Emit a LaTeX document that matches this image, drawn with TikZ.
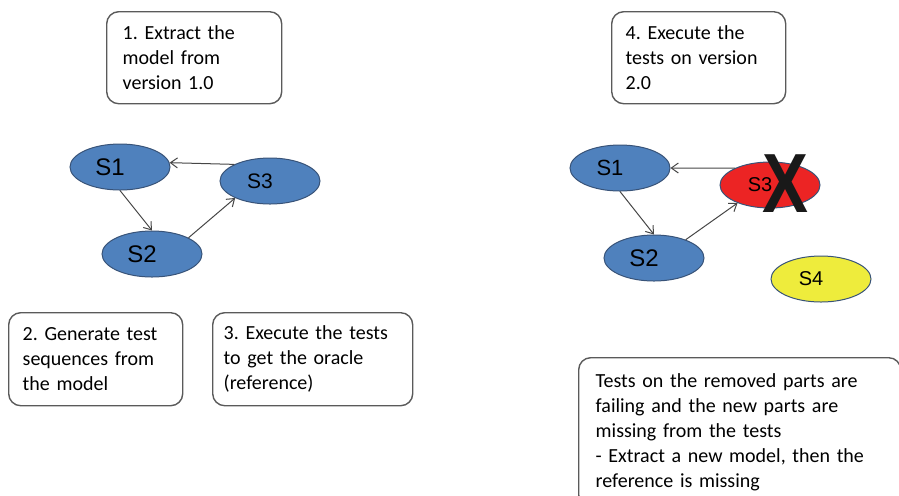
\documentclass[tikz,border=0pt]{standalone}
\usepackage{fontspec}
\setmainfont{Carlito}
\newfontfamily\arialfont{Liberation Sans}
\usetikzlibrary{arrows.meta,shapes.geometric}
\frenchspacing
\definecolor{stateblue}{RGB}{79,129,189}
\definecolor{stateedge}{RGB}{56,83,120}
\definecolor{statered}{RGB}{236,36,36}
\definecolor{stateyellow}{RGB}{238,236,60}
\definecolor{boxedge}{RGB}{90,90,90}
\tikzset{
  note/.style={draw=boxedge,line width=0.7pt,rounded corners=6pt,anchor=north west,
    align=left,font=\fontsize{10}{12.5}\selectfont},
  state/.style={ellipse,draw=stateedge,line width=0.5pt,fill=stateblue,inner sep=0pt,
    minimum width=50pt,minimum height=23pt,font=\arialfont\fontsize{12}{12}\selectfont,
    execute at end node={\hspace*{10pt}}},
  link/.style={draw={rgb,255:red,70;green,70;blue,70},line width=0.5pt,-{Straight Barb[length=3.5pt,width=5pt]}}
}
\begin{document}
\begin{tikzpicture}[x=0.5pt,y=-0.5pt]
  \useasboundingbox (0,0) rectangle (899,495);

  % notes
  \node[note,minimum width=87.5pt,minimum height=46pt,text width=71.5pt,inner xsep=8pt]
    (extract) at (106,11) {1. Extract the\\model from\\version 1.0};
  \node[note,minimum width=87pt,minimum height=46pt,text width=73pt,inner xsep=7pt]
    (execnew) at (611,11) {4. Execute the\\tests on version\\2.0};
  \node[note,minimum width=87pt,minimum height=46.5pt,text width=73pt,inner xsep=7pt]
    (generate) at (8,312) {2. Generate test\\sequences from\\the model};
  \node[note,minimum width=100pt,minimum height=46.5pt,text width=89pt,inner xsep=5.5pt]
    (oracle) at (212,312) {3. Execute the tests\\to get the oracle\\(reference)};
  \node[note,minimum width=161pt,minimum height=74.5pt,text width=144pt,inner xsep=8.5pt]
    (result) at (578,357) {Tests on the removed parts are\\failing and the new parts are\\missing from the tests\\- Extract a new model, then the\\reference is missing};

  % model of version 1.0
  \node[state] (s1) at (120,167) {S1};
  \node[state,font=\arialfont\fontsize{10.5}{12}\selectfont] (s3) at (270,181) {S3};
  \node[state] (s2) at (152,254) {S2};
  \draw[link] (s3.155) -- (s1.5);
  \draw[link] (s1.south) -- (s2.north);
  \draw[link] (s2.24) -- (s3.206);

  % version 2.0
  \node[state,font=\arialfont\fontsize{11}{12}\selectfont] (t1) at (620,168) {S1};
  \node[state,fill=statered,font=\arialfont\fontsize{10}{12}\selectfont] (t3) at (770,185) {S3};
  \node[state] (t2) at (654,258) {S2};
  \node[state,fill=stateyellow,font=\arialfont\fontsize{10}{12}\selectfont] (t4) at (821,279) {S4};
  \draw[link] (t3.154) -- (t1.east);
  \draw[link] (t1.south) -- (t2.north);
  \draw[link] (t2.30) -- (t3.209);
  \node[inner sep=0pt,text=black!90,font=\arialfont\bfseries\fontsize{42}{42}\selectfont]
    (cross) at (785,184) {\scalebox{0.82}[1]{X}};
\end{tikzpicture}
\end{document}
